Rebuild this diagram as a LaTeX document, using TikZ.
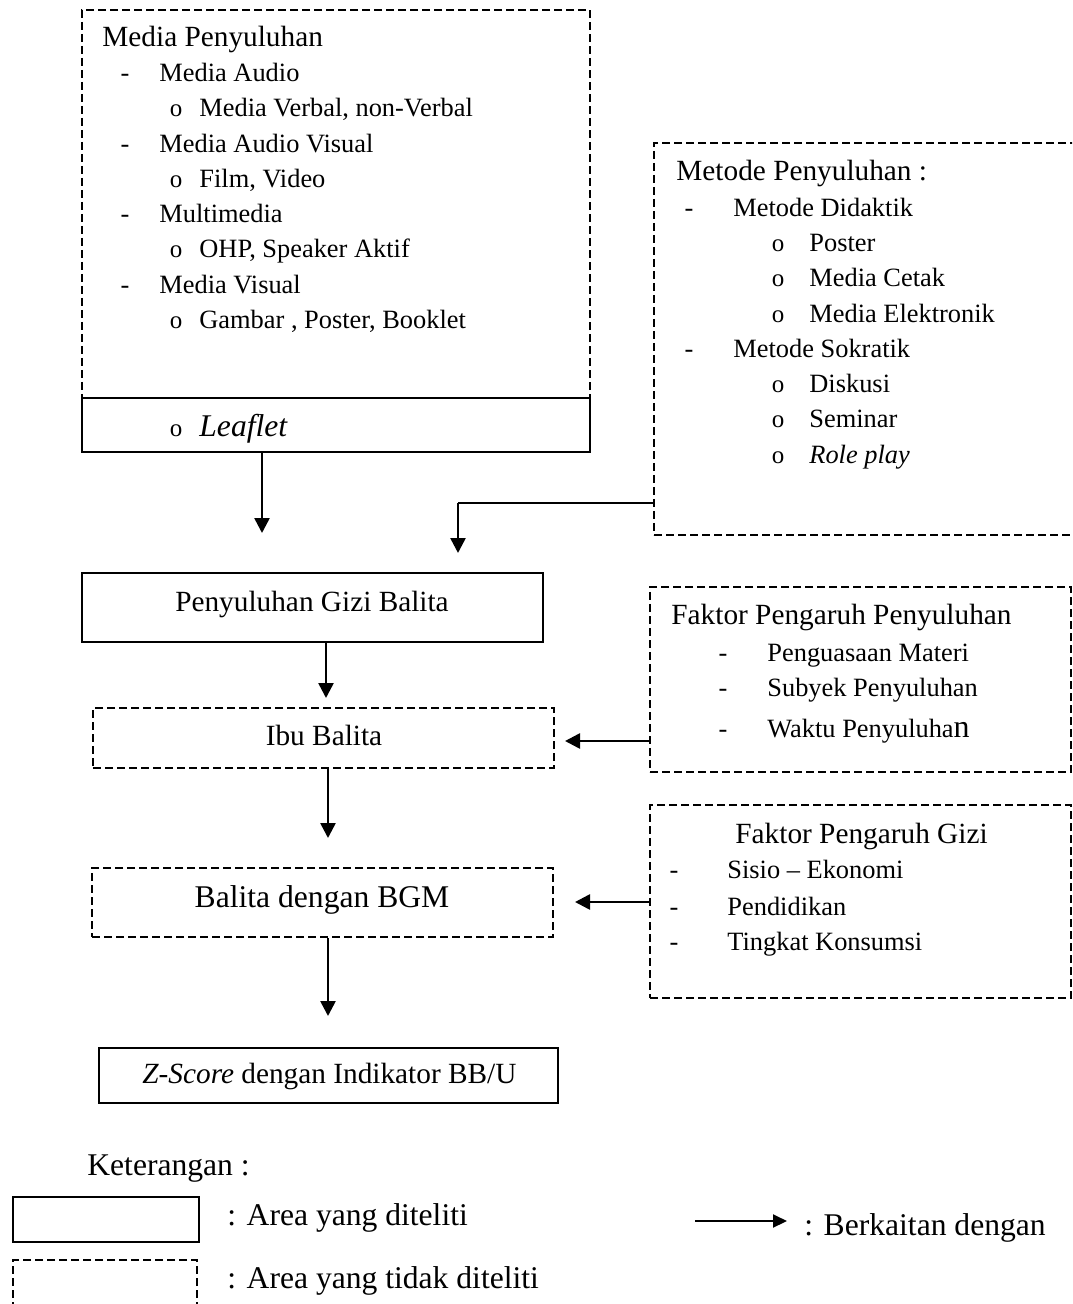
\documentclass[tikz,border=0pt]{standalone}
\usepackage{fontspec}
\setmainfont{Liberation Serif}
\usetikzlibrary{arrows.meta,fit}
\begin{document}
\begin{tikzpicture}[x=0.5pt,y=-0.5pt,
  big/.style={font=\fontsize{14.65}{17}\selectfont},
  small/.style={font=\fontsize{13.2}{16}\selectfont},
  large/.style={font=\fontsize{15.8}{19}\selectfont},
  txt/.style={inner sep=0pt, anchor=base west},
  ctr/.style={inner sep=0pt, anchor=base},
  dsh/.style={inner sep=0pt, anchor=base, font=\fontsize{13.2}{16}\selectfont},
  bul/.style={inner sep=0pt, anchor=base, font=\fontsize{12.5}{15}\selectfont},
  solidbox/.style={draw, line width=1pt, inner sep=0pt},
  dashbox/.style={draw, line width=1pt, dash pattern=on 3.8pt off 2.2pt, inner sep=0pt},
  arr/.style={line width=1.3pt, -{Triangle[length=7.5pt,width=7.5pt]}},
  thinarr/.style={line width=1pt, -{Triangle[length=7pt,width=6.5pt]}}
]
\useasboundingbox (0,0) rectangle (1072,1304);
\clip (0,0) rectangle (1072,1304);

% ---------- Media Penyuluhan ----------
\node[dashbox, fit={(82,10) (590,398)}] (media) {};
\node[solidbox, fit={(82,398) (590,452)}] (leaflet) {};
\node[txt,big] (mt) at (102,46.7) {Media Penyuluhan};
\node[dsh] (md1) at (125,81.7) {-};
\node[txt,small] (m1) at (159,81.7) {Media Audio};
\node[bul] (mb1) at (176,117) {o};
\node[txt,small] (m1a) at (199,117) {Media Verbal, non-Verbal};
\node[dsh] (md2) at (125,153) {-};
\node[txt,small] (m2) at (159,153) {Media Audio Visual};
\node[bul] (mb2) at (176,188) {o};
\node[txt,small] (m2a) at (199,188) {Film, Video};
\node[dsh] (md3) at (125,223) {-};
\node[txt,small] (m3) at (159,223) {Multimedia};
\node[bul] (mb3) at (176,258) {o};
\node[txt,small] (m3a) at (199,258) {OHP, Speaker Aktif};
\node[dsh] (md4) at (125,294) {-};
\node[txt,small] (m4) at (159,294) {Media Visual};
\node[bul] (mb4) at (176,329) {o};
\node[txt,small] (m4a) at (199,329) {Gambar , Poster, Booklet};
\node[bul] (mb5) at (176,437) {o};
\node[txt,large] (lf) at (199,437) {\textit{Leaflet}};

% ---------- Metode Penyuluhan ----------
\node[dashbox, fit={(654,143) (1090,535)}] (metode) {};
\node[txt,big] (met) at (676,181) {Metode Penyuluhan :};
\node[dsh] (ed1) at (689,217) {-};
\node[txt,small] (e1) at (733,217) {Metode Didaktik};
\node[bul] (eb1) at (778,252) {o};
\node[txt,small] (e1a) at (809,252) {Poster};
\node[bul] (eb2) at (778,287) {o};
\node[txt,small] (e1b) at (809,287) {Media Cetak};
\node[bul] (eb3) at (778,323) {o};
\node[txt,small] (e1c) at (809,323) {Media Elektronik};
\node[dsh] (ed2) at (689,358) {-};
\node[txt,small] (e2) at (733,358) {Metode Sokratik};
\node[bul] (eb4) at (778,393) {o};
\node[txt,small] (e2a) at (809,393) {Diskusi};
\node[bul] (eb5) at (778,428) {o};
\node[txt,small] (e2b) at (809,428) {Seminar};
\node[bul] (eb6) at (778,463) {o};
\node[txt,small] (e2c) at (809,463) {\textit{Role play}};

% ---------- main chain ----------
\node[solidbox, fit={(82,573) (543,642)}] (peny) {};
\node[ctr,big] (penyt) at (312,611) {Penyuluhan Gizi Balita};
\node[dashbox, fit={(93,708) (554,768)}] (ibu) {};
\node[ctr,big] (ibut) at (324,745) {Ibu Balita};
\node[dashbox, fit={(92,868) (553,937)}] (bgm) {};
\node[ctr,large] (bgmt) at (322,907) {Balita dengan BGM};
\node[solidbox, fit={(99,1048) (558,1103)}] (zs) {};
\node[txt,big] (zst) at (142,1083) {\textit{Z-Score} dengan Indikator BB/U};

% ---------- Faktor Pengaruh Penyuluhan ----------
\node[dashbox, fit={(650,587) (1071,772)}] (fpp) {};
\node[txt,big] (fppt) at (671,624) {Faktor Pengaruh Penyuluhan};
\node[dsh] (pd1) at (723,661) {-};
\node[txt,small] (p1) at (767,661) {Penguasaan Materi};
\node[dsh] (pd2) at (723,696) {-};
\node[txt,small] (p2) at (767,696) {Subyek Penyuluhan};
\node[dsh] (pd3) at (723,737) {-};
\node[txt,small] (p3) at (767,737) {Waktu Penyuluha{\fontsize{16}{19}\selectfont n}};

% ---------- Faktor Pengaruh Gizi ----------
\node[dashbox, fit={(650,805) (1071,998)}] (fpg) {};
\node[txt,big] (fpgt) at (735,843) {Faktor Pengaruh Gizi};
\node[dsh] (gd1) at (674,878) {-};
\node[txt,small] (g1) at (727,878) {Sisio -- Ekonomi};
\node[dsh] (gd2) at (674,915) {-};
\node[txt,small] (g2) at (727,915) {Pendidikan};
\node[dsh] (gd3) at (674,950) {-};
\node[txt,small] (g3) at (727,950) {Tingkat Konsumsi};

% ---------- connectors ----------
\coordinate (t1) at (262,533);
\draw[arr] (leaflet.south -| t1) -- (t1);
\coordinate (k2) at (458,503);
\coordinate (t2) at (458,553);
\draw[line width=1pt] (metode.west |- k2) -- (k2);
\draw[arr] (k2) -- (t2);
\coordinate (t3) at (326,698);
\draw[arr] (peny.south -| t3) -- (t3);
\coordinate (t4) at (328,838);
\draw[arr] (ibu.south -| t4) -- (t4);
\coordinate (t5) at (328,1016);
\draw[arr] (bgm.south -| t5) -- (t5);
\coordinate (t6) at (565,741);
\draw[arr] (fpp.west |- t6) -- (t6);
\coordinate (t7) at (575,902);
\draw[arr] (fpg.west |- t7) -- (t7);

% ---------- legend ----------
\node[txt,large] (ket) at (87,1175) {Keterangan :};
\node[solidbox, fit={(13,1197) (199,1242)}] (lsolid) {};
\node[txt,large] (lst) at (227,1225) {: Area yang diteliti};
\node[dashbox, fit={(13,1260) (197,1330)}] (ldash) {};
\node[txt,large] (ldt) at (227,1288) {: Area yang tidak diteliti};
\coordinate (la) at (695,1221);
\coordinate (lb) at (787,1221);
\draw[thinarr] (la) -- (lb);
\node[txt,large] (lat) at (804,1235) {: Berkaitan dengan};
\end{tikzpicture}
\end{document}
